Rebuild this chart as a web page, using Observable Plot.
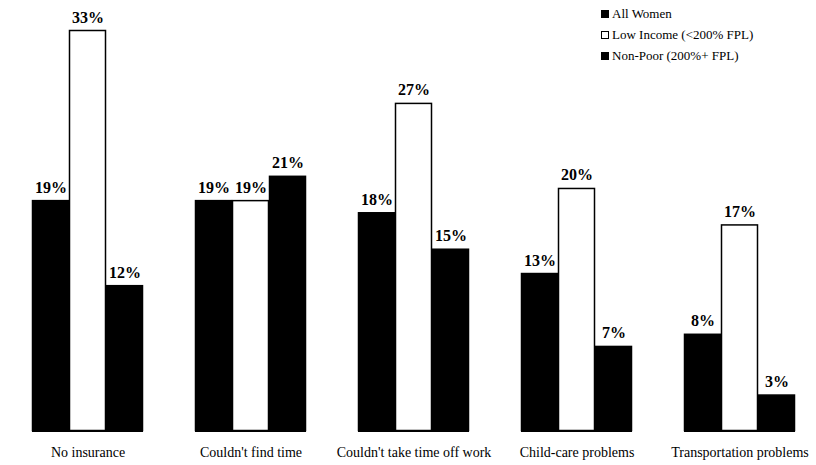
<!DOCTYPE html>
<html>
<head>
<meta charset="utf-8">
<script src="https://cdn.jsdelivr.net/npm/d3@7"></script>
<script src="https://cdn.jsdelivr.net/npm/@observablehq/plot@0.6"></script>
<style>
  html, body { margin: 0; padding: 0; background: #fff; }
  #wrap { position: relative; width: 816px; height: 465px; font-family: "Liberation Serif", serif; }
  #chart svg, #chart svg text { font-family: "Liberation Serif", serif !important; }
  #legend { position: absolute; left: 601px; top: 3px; font-size: 13px; color: #000; }
  #legend .row { display: flex; align-items: center; height: 21px; }
  #legend .sw { width: 6px; height: 6px; border: 1.5px solid #000; margin-right: 3px; }
</style>
</head>
<body>
<div id="wrap">
  <div id="chart"></div>
  <div id="legend"></div>
</div>
<script>
const categories = ["No insurance", "Couldn't find time", "Couldn't take time off work", "Child-care problems", "Transportation problems"];
const series = ["All Women", "Low Income (<200% FPL)", "Non-Poor (200%+ FPL)"];
const allWomen = [19, 19, 18, 13, 8];
const lowIncome = [33, 19, 27, 20, 17];
const nonPoor = [12, 21, 15, 7, 3];
const seriesFill = ["#000000", "#ffffff", "#000000"];

const values = [allWomen, lowIncome, nonPoor];
const data = [];
categories.forEach((c, i) => {
  series.forEach((s, j) => data.push({cat: c, series: s, value: values[j][i]}));
});

const chart = Plot.plot({
  width: 816,
  height: 465,
  marginLeft: 30,
  marginRight: 19,
  marginTop: 30,
  marginBottom: 34,
  style: {fontFamily: "Liberation Serif, serif", background: "#fff", color: "#000"},
  fx: {domain: categories, paddingInner: 0.317, paddingOuter: 0},
  x: {domain: series, padding: 0, axis: null},
  y: {domain: [0, 33], axis: null},
  color: {domain: series, range: seriesFill},
  marks: [
    Plot.ruleY([0], {stroke: "#000", strokeWidth: 1}),
    Plot.barY(data, {fx: "cat", x: "series", y: "value", fill: "series", stroke: "#000", strokeWidth: 1.5, inset: 0.5}),
    Plot.text(data, {fx: "cat", x: "series", y: "value", text: d => d.value + "%", dy: -8, lineAnchor: "bottom", fontWeight: "bold", fontSize: 16, fill: "#000"}),
    Plot.axisFx({anchor: "bottom", tickSize: 0, tickPadding: 16, label: null, fontSize: 14})
  ]
});
document.getElementById("chart").appendChild(chart);

const legend = document.getElementById("legend");
series.forEach((s, j) => {
  const row = document.createElement("div");
  row.className = "row";
  const sw = document.createElement("span");
  sw.className = "sw";
  sw.style.background = seriesFill[j];
  const t = document.createElement("span");
  t.textContent = s;
  row.appendChild(sw);
  row.appendChild(t);
  legend.appendChild(row);
});
</script>
</body>
</html>
